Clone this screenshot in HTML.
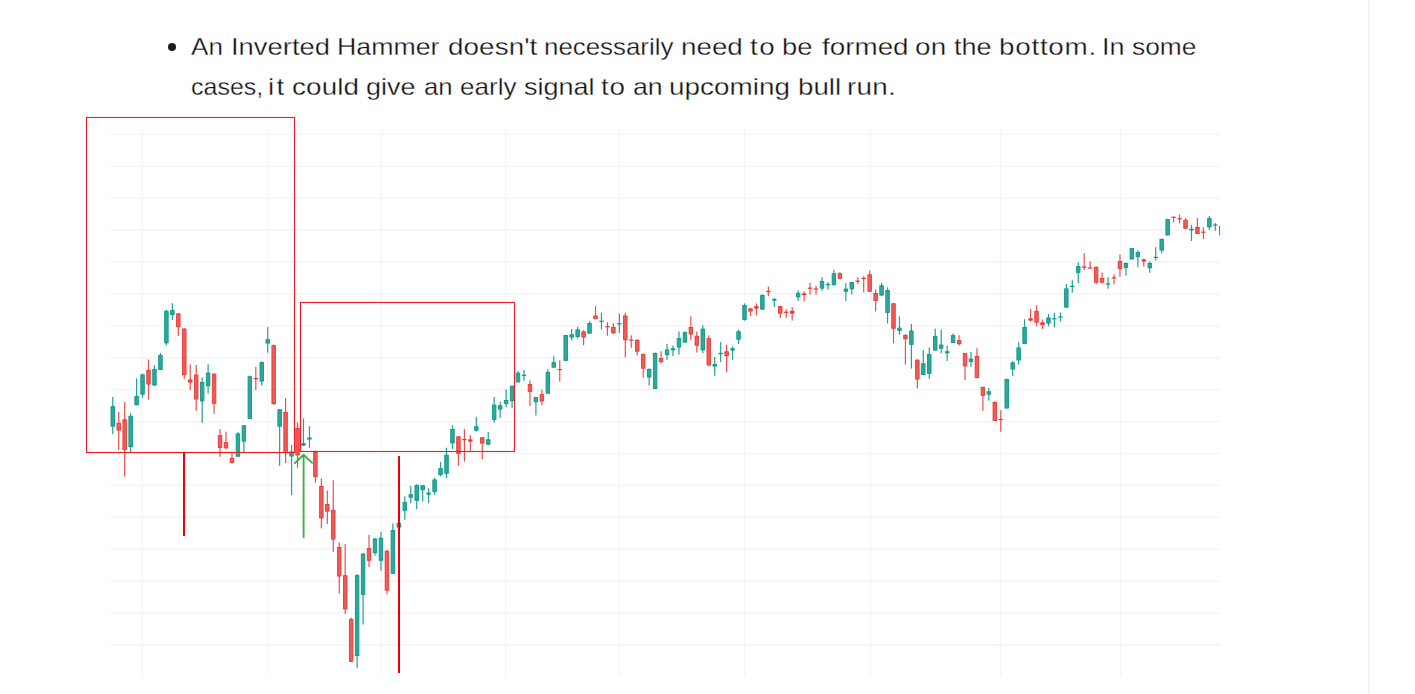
<!DOCTYPE html>
<html><head><meta charset="utf-8"><style>
html,body{margin:0;padding:0;background:#fff;width:1415px;height:694px;overflow:hidden;}
body{position:relative;font-family:"Liberation Sans",sans-serif;color:#111;}
.w{position:absolute;font-size:24px;line-height:40px;white-space:nowrap;transform-origin:0 0;-webkit-text-stroke:0.3px #fff;}
.bul{position:absolute;left:168px;top:43px;width:8px;height:8px;border-radius:50%;background:#1e1e1e;}
.vr{position:absolute;left:1368px;top:0;width:2px;height:694px;background:#f3f3f3;}
</style></head><body>
<div class="vr"></div>
<div class="bul"></div>
<span class="w" style="left:191.40px;top:27px;transform:scaleX(1.0857);letter-spacing:0.000px">An</span>
<span class="w" style="left:231.42px;top:27px;transform:scaleX(1.1410);letter-spacing:0.000px">Inverted</span>
<span class="w" style="left:337.17px;top:27px;transform:scaleX(1.1133);letter-spacing:0.000px">Hammer</span>
<span class="w" style="left:447.64px;top:27px;transform:scaleX(1.1600);letter-spacing:0.063px">doesn't</span>
<span class="w" style="left:544.04px;top:27px;transform:scaleX(1.0780);letter-spacing:0.000px">necessarily</span>
<span class="w" style="left:680.98px;top:27px;transform:scaleX(1.1580);letter-spacing:-0.000px">need</span>
<span class="w" style="left:750.30px;top:27px;transform:scaleX(1.1600);letter-spacing:1.345px">to</span>
<span class="w" style="left:782.26px;top:27px;transform:scaleX(1.1400);letter-spacing:0.000px">be</span>
<span class="w" style="left:822.00px;top:27px;transform:scaleX(1.1589);letter-spacing:0.000px">formed</span>
<span class="w" style="left:914.84px;top:27px;transform:scaleX(1.1600);letter-spacing:0.310px">on</span>
<span class="w" style="left:953.80px;top:27px;transform:scaleX(1.1250);letter-spacing:0.000px">the</span>
<span class="w" style="left:998.84px;top:27px;transform:scaleX(1.1600);letter-spacing:0.629px">bottom.</span>
<span class="w" style="left:1102.05px;top:27px;transform:scaleX(1.1235);letter-spacing:0.000px">In</span>
<span class="w" style="left:1131.80px;top:27px;transform:scaleX(1.0965);letter-spacing:-0.000px">some</span>
<span class="w" style="left:190.96px;top:67px;transform:scaleX(1.0409);letter-spacing:0.000px">cases,</span>
<span class="w" style="left:268.18px;top:67px;transform:scaleX(1.1600);letter-spacing:1.897px">it</span>
<span class="w" style="left:292.34px;top:67px;transform:scaleX(1.1600);letter-spacing:0.108px">could</span>
<span class="w" style="left:366.37px;top:67px;transform:scaleX(1.1262);letter-spacing:0.000px">give</span>
<span class="w" style="left:424.03px;top:67px;transform:scaleX(1.0708);letter-spacing:0.000px">an</span>
<span class="w" style="left:459.51px;top:67px;transform:scaleX(1.0882);letter-spacing:0.000px">early</span>
<span class="w" style="left:523.77px;top:67px;transform:scaleX(1.1250);letter-spacing:0.000px">signal</span>
<span class="w" style="left:600.70px;top:67px;transform:scaleX(1.1600);letter-spacing:0.741px">to</span>
<span class="w" style="left:632.59px;top:67px;transform:scaleX(1.1125);letter-spacing:0.000px">an</span>
<span class="w" style="left:668.94px;top:67px;transform:scaleX(1.1600);letter-spacing:0.034px">upcoming</span>
<span class="w" style="left:797.65px;top:67px;transform:scaleX(1.1543);letter-spacing:0.000px">bull</span>
<span class="w" style="left:846.98px;top:67px;transform:scaleX(1.1600);letter-spacing:0.253px">run.</span>
<svg width="1415" height="694" viewBox="0 0 1415 694" style="position:absolute;left:0;top:0"><defs><clipPath id="clip"><rect x="0" y="0" width="1220" height="694"/></clipPath></defs><g fill="#f4f5f5"><rect x="110" y="133.75" width="1110" height="1.5" /><rect x="110" y="165.65" width="1110" height="1.5" /><rect x="110" y="197.55" width="1110" height="1.5" /><rect x="110" y="229.45" width="1110" height="1.5" /><rect x="110" y="261.35" width="1110" height="1.5" /><rect x="110" y="293.25" width="1110" height="1.5" /><rect x="110" y="325.15" width="1110" height="1.5" /><rect x="110" y="357.05" width="1110" height="1.5" /><rect x="110" y="388.95" width="1110" height="1.5" /><rect x="110" y="420.85" width="1110" height="1.5" /><rect x="110" y="452.75" width="1110" height="1.5" /><rect x="110" y="484.65" width="1110" height="1.5" /><rect x="110" y="516.55" width="1110" height="1.5" /><rect x="110" y="548.45" width="1110" height="1.5" /><rect x="110" y="580.35" width="1110" height="1.5" /><rect x="110" y="612.25" width="1110" height="1.5" /><rect x="110" y="644.15" width="1110" height="1.5" /><rect x="141.55" y="129" width="1.3" height="546.7" /><rect x="266.85" y="129" width="1.3" height="546.7" /><rect x="380.65" y="129" width="1.3" height="546.7" /><rect x="504.95" y="129" width="1.3" height="546.7" /><rect x="618.45" y="129" width="1.3" height="546.7" /><rect x="743.95" y="129" width="1.3" height="546.7" /><rect x="869.85" y="129" width="1.3" height="546.7" /><rect x="999.65" y="129" width="1.3" height="546.7" /><rect x="1119.85" y="129" width="1.3" height="546.7" /></g><g clip-path="url(#clip)"><rect x="112.16" y="397.0" width="1.2" height="37.2" fill="#21a294"/><rect x="111.01" y="406.65" width="3.50" height="19.60" fill="#2ba99c" stroke="#109786" stroke-width="0.9"/><rect x="118.12" y="411.9" width="1.2" height="38.1" fill="#ee4f4c"/><rect x="116.97" y="423.35" width="3.50" height="6.70" fill="#f05a57" stroke="#e53b37" stroke-width="0.9"/><rect x="124.08" y="402.0" width="1.2" height="74.6" fill="#ee4f4c"/><rect x="122.93" y="419.75" width="3.50" height="29.80" fill="#f05a57" stroke="#e53b37" stroke-width="0.9"/><rect x="130.04" y="413.0" width="1.2" height="39.1" fill="#21a294"/><rect x="128.89" y="416.25" width="3.50" height="30.50" fill="#2ba99c" stroke="#109786" stroke-width="0.9"/><rect x="136.00" y="378.4" width="1.2" height="26.8" fill="#21a294"/><rect x="134.85" y="396.45" width="3.50" height="8.30" fill="#2ba99c" stroke="#109786" stroke-width="0.9"/><rect x="141.96" y="373.6" width="1.2" height="24.1" fill="#21a294"/><rect x="140.81" y="374.85" width="3.50" height="19.30" fill="#2ba99c" stroke="#109786" stroke-width="0.9"/><rect x="147.92" y="359.6" width="1.2" height="40.0" fill="#ee4f4c"/><rect x="146.77" y="370.35" width="3.50" height="13.70" fill="#f05a57" stroke="#e53b37" stroke-width="0.9"/><rect x="153.88" y="365.2" width="1.2" height="20.5" fill="#21a294"/><rect x="152.73" y="369.35" width="3.50" height="15.70" fill="#2ba99c" stroke="#109786" stroke-width="0.9"/><rect x="159.84" y="353.0" width="1.2" height="17.3" fill="#21a294"/><rect x="158.69" y="355.25" width="3.50" height="14.20" fill="#2ba99c" stroke="#109786" stroke-width="0.9"/><rect x="165.80" y="309.6" width="1.2" height="35.6" fill="#21a294"/><rect x="164.65" y="311.25" width="3.50" height="31.60" fill="#2ba99c" stroke="#109786" stroke-width="0.9"/><rect x="171.76" y="303.2" width="1.2" height="16.8" fill="#21a294"/><rect x="170.61" y="310.55" width="3.50" height="4.10" fill="#2ba99c" stroke="#109786" stroke-width="0.9"/><rect x="177.72" y="313.0" width="1.2" height="23.0" fill="#ee4f4c"/><rect x="176.57" y="313.85" width="3.50" height="12.90" fill="#f05a57" stroke="#e53b37" stroke-width="0.9"/><rect x="183.68" y="328.0" width="1.2" height="50.8" fill="#ee4f4c"/><rect x="182.53" y="329.05" width="3.50" height="45.60" fill="#f05a57" stroke="#e53b37" stroke-width="0.9"/><rect x="189.64" y="364.3" width="1.2" height="25.7" fill="#ee4f4c"/><rect x="188.49" y="379.85" width="3.50" height="2.30" fill="#f05a57" stroke="#e53b37" stroke-width="0.9"/><rect x="195.60" y="365.0" width="1.2" height="45.9" fill="#ee4f4c"/><rect x="194.45" y="375.05" width="3.50" height="23.90" fill="#f05a57" stroke="#e53b37" stroke-width="0.9"/><rect x="201.56" y="377.3" width="1.2" height="45.6" fill="#21a294"/><rect x="200.41" y="382.35" width="3.50" height="18.50" fill="#2ba99c" stroke="#109786" stroke-width="0.9"/><rect x="207.52" y="364.3" width="1.2" height="29.2" fill="#21a294"/><rect x="206.37" y="373.15" width="3.50" height="12.60" fill="#2ba99c" stroke="#109786" stroke-width="0.9"/><rect x="213.48" y="373.5" width="1.2" height="40.2" fill="#ee4f4c"/><rect x="212.33" y="374.15" width="3.50" height="29.20" fill="#f05a57" stroke="#e53b37" stroke-width="0.9"/><rect x="219.44" y="429.1" width="1.2" height="27.7" fill="#ee4f4c"/><rect x="218.29" y="435.65" width="3.50" height="11.80" fill="#f05a57" stroke="#e53b37" stroke-width="0.9"/><rect x="225.40" y="431.6" width="1.2" height="17.3" fill="#ee4f4c"/><rect x="224.25" y="442.65" width="3.50" height="5.20" fill="#f05a57" stroke="#e53b37" stroke-width="0.9"/><rect x="231.36" y="452.8" width="1.2" height="10.7" fill="#ee4f4c"/><rect x="230.21" y="458.55" width="3.50" height="4.00" fill="#f05a57" stroke="#e53b37" stroke-width="0.9"/><rect x="237.32" y="432.1" width="1.2" height="24.6" fill="#21a294"/><rect x="236.17" y="433.95" width="3.50" height="22.30" fill="#2ba99c" stroke="#109786" stroke-width="0.9"/><rect x="243.28" y="425.0" width="1.2" height="27.1" fill="#21a294"/><rect x="242.13" y="425.75" width="3.50" height="15.30" fill="#2ba99c" stroke="#109786" stroke-width="0.9"/><rect x="249.24" y="375.5" width="1.2" height="43.4" fill="#21a294"/><rect x="248.09" y="376.75" width="3.50" height="41.70" fill="#2ba99c" stroke="#109786" stroke-width="0.9"/><rect x="255.20" y="367.0" width="1.2" height="23.0" fill="#ee4f4c"/><rect x="253.60" y="378.0" width="4.4" height="1.2" fill="#e53b37"/><rect x="261.16" y="361.5" width="1.2" height="24.0" fill="#21a294"/><rect x="260.01" y="362.55" width="3.50" height="18.50" fill="#2ba99c" stroke="#109786" stroke-width="0.9"/><rect x="267.12" y="326.8" width="1.2" height="25.9" fill="#21a294"/><rect x="265.97" y="339.65" width="3.50" height="3.40" fill="#2ba99c" stroke="#109786" stroke-width="0.9"/><rect x="273.08" y="344.5" width="1.2" height="60.3" fill="#ee4f4c"/><rect x="271.93" y="345.65" width="3.50" height="58.00" fill="#f05a57" stroke="#e53b37" stroke-width="0.9"/><rect x="279.04" y="409.0" width="1.2" height="56.8" fill="#21a294"/><rect x="277.89" y="409.75" width="3.50" height="16.50" fill="#2ba99c" stroke="#109786" stroke-width="0.9"/><rect x="285.00" y="398.1" width="1.2" height="64.9" fill="#ee4f4c"/><rect x="283.85" y="412.55" width="3.50" height="40.00" fill="#f05a57" stroke="#e53b37" stroke-width="0.9"/><rect x="290.96" y="445.0" width="1.2" height="49.9" fill="#21a294"/><rect x="289.81" y="451.95" width="3.50" height="4.10" fill="#2ba99c" stroke="#109786" stroke-width="0.9"/><rect x="296.92" y="422.2" width="1.2" height="45.6" fill="#ee4f4c"/><rect x="295.77" y="428.45" width="3.50" height="26.50" fill="#f05a57" stroke="#e53b37" stroke-width="0.9"/><rect x="302.88" y="418.5" width="1.2" height="27.5" fill="#21a294"/><rect x="301.28" y="443.1" width="4.4" height="2.5" fill="#109786"/><rect x="308.84" y="426.2" width="1.2" height="21.9" fill="#21a294"/><rect x="307.24" y="437.5" width="4.4" height="2.1" fill="#109786"/><rect x="314.80" y="450.5" width="1.2" height="32.2" fill="#ee4f4c"/><rect x="313.65" y="452.45" width="3.50" height="24.20" fill="#f05a57" stroke="#e53b37" stroke-width="0.9"/><rect x="320.76" y="478.5" width="1.2" height="49.9" fill="#ee4f4c"/><rect x="319.61" y="486.45" width="3.50" height="31.40" fill="#f05a57" stroke="#e53b37" stroke-width="0.9"/><rect x="326.72" y="490.5" width="1.2" height="33.4" fill="#ee4f4c"/><rect x="325.57" y="504.55" width="3.50" height="6.60" fill="#f05a57" stroke="#e53b37" stroke-width="0.9"/><rect x="332.68" y="480.3" width="1.2" height="71.6" fill="#ee4f4c"/><rect x="331.53" y="510.25" width="3.50" height="28.80" fill="#f05a57" stroke="#e53b37" stroke-width="0.9"/><rect x="338.64" y="542.3" width="1.2" height="51.1" fill="#ee4f4c"/><rect x="337.49" y="547.45" width="3.50" height="28.60" fill="#f05a57" stroke="#e53b37" stroke-width="0.9"/><rect x="344.60" y="544.1" width="1.2" height="69.8" fill="#ee4f4c"/><rect x="343.45" y="575.65" width="3.50" height="33.30" fill="#f05a57" stroke="#e53b37" stroke-width="0.9"/><rect x="350.56" y="617.5" width="1.2" height="44.2" fill="#ee4f4c"/><rect x="349.41" y="619.35" width="3.50" height="41.90" fill="#f05a57" stroke="#e53b37" stroke-width="0.9"/><rect x="356.52" y="574.1" width="1.2" height="94.2" fill="#21a294"/><rect x="355.37" y="575.65" width="3.50" height="79.90" fill="#2ba99c" stroke="#109786" stroke-width="0.9"/><rect x="362.48" y="553.0" width="1.2" height="71.5" fill="#21a294"/><rect x="361.33" y="554.05" width="3.50" height="40.30" fill="#2ba99c" stroke="#109786" stroke-width="0.9"/><rect x="368.44" y="535.0" width="1.2" height="32.0" fill="#ee4f4c"/><rect x="367.29" y="548.45" width="3.50" height="11.80" fill="#f05a57" stroke="#e53b37" stroke-width="0.9"/><rect x="374.40" y="538.0" width="1.2" height="17.7" fill="#21a294"/><rect x="373.25" y="538.95" width="3.50" height="13.50" fill="#2ba99c" stroke="#109786" stroke-width="0.9"/><rect x="380.36" y="532.1" width="1.2" height="38.7" fill="#21a294"/><rect x="379.21" y="538.25" width="3.50" height="22.00" fill="#2ba99c" stroke="#109786" stroke-width="0.9"/><rect x="386.32" y="550.0" width="1.2" height="44.4" fill="#ee4f4c"/><rect x="385.17" y="551.25" width="3.50" height="38.90" fill="#f05a57" stroke="#e53b37" stroke-width="0.9"/><rect x="392.27" y="523.5" width="1.2" height="50.2" fill="#21a294"/><rect x="391.12" y="530.45" width="3.50" height="42.80" fill="#2ba99c" stroke="#109786" stroke-width="0.9"/><rect x="398.23" y="522.0" width="1.2" height="5.5" fill="#21a294"/><rect x="397.08" y="523.25" width="3.50" height="3.80" fill="#2ba99c" stroke="#109786" stroke-width="0.9"/><rect x="404.19" y="496.3" width="1.2" height="23.4" fill="#21a294"/><rect x="403.04" y="502.45" width="3.50" height="7.90" fill="#2ba99c" stroke="#109786" stroke-width="0.9"/><rect x="410.15" y="486.0" width="1.2" height="17.4" fill="#21a294"/><rect x="409.00" y="494.75" width="3.50" height="2.50" fill="#2ba99c" stroke="#109786" stroke-width="0.9"/><rect x="416.11" y="484.2" width="1.2" height="24.9" fill="#21a294"/><rect x="414.96" y="485.55" width="3.50" height="14.80" fill="#2ba99c" stroke="#109786" stroke-width="0.9"/><rect x="422.07" y="485.0" width="1.2" height="16.5" fill="#21a294"/><rect x="420.92" y="485.75" width="3.50" height="4.00" fill="#2ba99c" stroke="#109786" stroke-width="0.9"/><rect x="428.03" y="488.1" width="1.2" height="14.9" fill="#21a294"/><rect x="426.43" y="492.6" width="4.4" height="2.0" fill="#109786"/><rect x="433.99" y="477.8" width="1.2" height="17.1" fill="#21a294"/><rect x="432.84" y="479.95" width="3.50" height="11.40" fill="#2ba99c" stroke="#109786" stroke-width="0.9"/><rect x="439.95" y="461.8" width="1.2" height="14.6" fill="#21a294"/><rect x="438.80" y="468.65" width="3.50" height="5.90" fill="#2ba99c" stroke="#109786" stroke-width="0.9"/><rect x="445.91" y="447.7" width="1.2" height="30.5" fill="#21a294"/><rect x="444.76" y="455.25" width="3.50" height="18.10" fill="#2ba99c" stroke="#109786" stroke-width="0.9"/><rect x="451.87" y="425.2" width="1.2" height="23.9" fill="#21a294"/><rect x="450.72" y="429.45" width="3.50" height="13.50" fill="#2ba99c" stroke="#109786" stroke-width="0.9"/><rect x="457.83" y="436.0" width="1.2" height="29.8" fill="#ee4f4c"/><rect x="456.68" y="436.85" width="3.50" height="16.50" fill="#f05a57" stroke="#e53b37" stroke-width="0.9"/><rect x="463.79" y="429.0" width="1.2" height="32.5" fill="#ee4f4c"/><rect x="462.19" y="439.0" width="4.4" height="1.2" fill="#e53b37"/><rect x="469.75" y="435.1" width="1.2" height="15.8" fill="#ee4f4c"/><rect x="468.15" y="439.3" width="4.4" height="2.4" fill="#e53b37"/><rect x="475.71" y="416.7" width="1.2" height="14.9" fill="#21a294"/><rect x="474.56" y="426.75" width="3.50" height="3.40" fill="#2ba99c" stroke="#109786" stroke-width="0.9"/><rect x="481.67" y="437.0" width="1.2" height="22.3" fill="#ee4f4c"/><rect x="480.52" y="437.85" width="3.50" height="5.20" fill="#f05a57" stroke="#e53b37" stroke-width="0.9"/><rect x="487.63" y="431.9" width="1.2" height="13.1" fill="#21a294"/><rect x="486.48" y="439.75" width="3.50" height="4.40" fill="#2ba99c" stroke="#109786" stroke-width="0.9"/><rect x="493.59" y="397.0" width="1.2" height="25.7" fill="#21a294"/><rect x="492.44" y="405.05" width="3.50" height="14.30" fill="#2ba99c" stroke="#109786" stroke-width="0.9"/><rect x="499.55" y="401.8" width="1.2" height="16.2" fill="#21a294"/><rect x="498.40" y="405.75" width="3.50" height="3.40" fill="#2ba99c" stroke="#109786" stroke-width="0.9"/><rect x="505.51" y="389.4" width="1.2" height="17.6" fill="#21a294"/><rect x="504.36" y="400.55" width="3.50" height="2.90" fill="#2ba99c" stroke="#109786" stroke-width="0.9"/><rect x="511.47" y="385.5" width="1.2" height="22.4" fill="#21a294"/><rect x="510.32" y="386.25" width="3.50" height="14.40" fill="#2ba99c" stroke="#109786" stroke-width="0.9"/><rect x="517.43" y="371.1" width="1.2" height="11.3" fill="#21a294"/><rect x="516.28" y="373.25" width="3.50" height="8.70" fill="#2ba99c" stroke="#109786" stroke-width="0.9"/><rect x="523.39" y="370.0" width="1.2" height="10.8" fill="#21a294"/><rect x="521.79" y="374.7" width="4.4" height="1.2" fill="#109786"/><rect x="529.35" y="380.3" width="1.2" height="25.7" fill="#ee4f4c"/><rect x="528.20" y="384.55" width="3.50" height="6.80" fill="#f05a57" stroke="#e53b37" stroke-width="0.9"/><rect x="535.31" y="397.0" width="1.2" height="18.5" fill="#21a294"/><rect x="534.16" y="397.55" width="3.50" height="4.20" fill="#2ba99c" stroke="#109786" stroke-width="0.9"/><rect x="541.27" y="389.6" width="1.2" height="15.4" fill="#ee4f4c"/><rect x="540.12" y="394.65" width="3.50" height="6.30" fill="#f05a57" stroke="#e53b37" stroke-width="0.9"/><rect x="547.23" y="369.3" width="1.2" height="24.3" fill="#21a294"/><rect x="546.08" y="372.25" width="3.50" height="20.90" fill="#2ba99c" stroke="#109786" stroke-width="0.9"/><rect x="553.19" y="356.1" width="1.2" height="11.5" fill="#21a294"/><rect x="552.04" y="362.65" width="3.50" height="4.50" fill="#2ba99c" stroke="#109786" stroke-width="0.9"/><rect x="559.15" y="360.5" width="1.2" height="21.2" fill="#ee4f4c"/><rect x="557.55" y="369.0" width="4.4" height="1.2" fill="#e53b37"/><rect x="565.11" y="335.0" width="1.2" height="25.8" fill="#21a294"/><rect x="563.96" y="335.55" width="3.50" height="24.80" fill="#2ba99c" stroke="#109786" stroke-width="0.9"/><rect x="571.07" y="329.0" width="1.2" height="11.6" fill="#21a294"/><rect x="569.92" y="334.75" width="3.50" height="2.30" fill="#2ba99c" stroke="#109786" stroke-width="0.9"/><rect x="577.03" y="326.9" width="1.2" height="11.5" fill="#21a294"/><rect x="575.88" y="329.85" width="3.50" height="6.70" fill="#2ba99c" stroke="#109786" stroke-width="0.9"/><rect x="582.99" y="330.1" width="1.2" height="15.1" fill="#ee4f4c"/><rect x="581.84" y="331.85" width="3.50" height="5.20" fill="#f05a57" stroke="#e53b37" stroke-width="0.9"/><rect x="588.95" y="321.2" width="1.2" height="12.4" fill="#21a294"/><rect x="587.80" y="323.35" width="3.50" height="9.80" fill="#2ba99c" stroke="#109786" stroke-width="0.9"/><rect x="594.91" y="306.1" width="1.2" height="13.0" fill="#ee4f4c"/><rect x="593.76" y="315.95" width="3.50" height="2.70" fill="#f05a57" stroke="#e53b37" stroke-width="0.9"/><rect x="600.87" y="312.7" width="1.2" height="16.7" fill="#21a294"/><rect x="599.27" y="320.7" width="4.4" height="1.2" fill="#109786"/><rect x="606.83" y="322.2" width="1.2" height="13.6" fill="#ee4f4c"/><rect x="605.23" y="326.1" width="4.4" height="1.2" fill="#e53b37"/><rect x="612.79" y="323.0" width="1.2" height="10.9" fill="#ee4f4c"/><rect x="611.64" y="327.35" width="3.50" height="5.40" fill="#f05a57" stroke="#e53b37" stroke-width="0.9"/><rect x="618.75" y="313.7" width="1.2" height="19.2" fill="#21a294"/><rect x="617.15" y="323.1" width="4.4" height="1.2" fill="#109786"/><rect x="624.71" y="312.7" width="1.2" height="44.8" fill="#ee4f4c"/><rect x="623.56" y="315.95" width="3.50" height="23.90" fill="#f05a57" stroke="#e53b37" stroke-width="0.9"/><rect x="630.67" y="335.3" width="1.2" height="12.5" fill="#ee4f4c"/><rect x="629.07" y="339.5" width="4.4" height="1.2" fill="#e53b37"/><rect x="636.63" y="338.9" width="1.2" height="16.6" fill="#ee4f4c"/><rect x="635.48" y="340.45" width="3.50" height="10.70" fill="#f05a57" stroke="#e53b37" stroke-width="0.9"/><rect x="642.59" y="353.5" width="1.2" height="24.2" fill="#ee4f4c"/><rect x="641.44" y="354.55" width="3.50" height="13.60" fill="#f05a57" stroke="#e53b37" stroke-width="0.9"/><rect x="648.55" y="368.3" width="1.2" height="17.2" fill="#21a294"/><rect x="647.40" y="369.45" width="3.50" height="7.60" fill="#2ba99c" stroke="#109786" stroke-width="0.9"/><rect x="654.51" y="352.5" width="1.2" height="36.5" fill="#21a294"/><rect x="653.36" y="353.45" width="3.50" height="35.10" fill="#2ba99c" stroke="#109786" stroke-width="0.9"/><rect x="660.47" y="351.2" width="1.2" height="12.4" fill="#ee4f4c"/><rect x="659.32" y="358.45" width="3.50" height="3.30" fill="#f05a57" stroke="#e53b37" stroke-width="0.9"/><rect x="666.43" y="343.8" width="1.2" height="16.2" fill="#21a294"/><rect x="665.28" y="349.95" width="3.50" height="4.70" fill="#2ba99c" stroke="#109786" stroke-width="0.9"/><rect x="672.39" y="345.5" width="1.2" height="10.7" fill="#21a294"/><rect x="670.79" y="348.3" width="4.4" height="2.0" fill="#109786"/><rect x="678.35" y="331.5" width="1.2" height="23.1" fill="#21a294"/><rect x="677.20" y="338.45" width="3.50" height="8.60" fill="#2ba99c" stroke="#109786" stroke-width="0.9"/><rect x="684.31" y="331.3" width="1.2" height="11.3" fill="#21a294"/><rect x="683.16" y="332.65" width="3.50" height="9.50" fill="#2ba99c" stroke="#109786" stroke-width="0.9"/><rect x="690.26" y="316.4" width="1.2" height="24.0" fill="#ee4f4c"/><rect x="689.11" y="327.45" width="3.50" height="6.60" fill="#f05a57" stroke="#e53b37" stroke-width="0.9"/><rect x="696.22" y="331.5" width="1.2" height="21.0" fill="#ee4f4c"/><rect x="695.07" y="336.25" width="3.50" height="9.00" fill="#f05a57" stroke="#e53b37" stroke-width="0.9"/><rect x="702.18" y="325.2" width="1.2" height="28.0" fill="#21a294"/><rect x="701.03" y="329.15" width="3.50" height="20.70" fill="#2ba99c" stroke="#109786" stroke-width="0.9"/><rect x="708.14" y="335.5" width="1.2" height="30.0" fill="#ee4f4c"/><rect x="706.99" y="338.65" width="3.50" height="26.40" fill="#f05a57" stroke="#e53b37" stroke-width="0.9"/><rect x="714.10" y="357.1" width="1.2" height="18.6" fill="#21a294"/><rect x="712.50" y="364.1" width="4.4" height="2.4" fill="#109786"/><rect x="720.06" y="342.0" width="1.2" height="20.0" fill="#21a294"/><rect x="718.46" y="352.8" width="4.4" height="1.4" fill="#109786"/><rect x="726.02" y="344.6" width="1.2" height="27.6" fill="#ee4f4c"/><rect x="724.87" y="351.75" width="3.50" height="4.00" fill="#f05a57" stroke="#e53b37" stroke-width="0.9"/><rect x="731.98" y="346.5" width="1.2" height="13.3" fill="#21a294"/><rect x="730.38" y="348.2" width="4.4" height="2.3" fill="#109786"/><rect x="737.94" y="329.7" width="1.2" height="14.3" fill="#21a294"/><rect x="736.79" y="331.75" width="3.50" height="7.40" fill="#2ba99c" stroke="#109786" stroke-width="0.9"/><rect x="743.90" y="303.4" width="1.2" height="17.3" fill="#21a294"/><rect x="742.75" y="305.55" width="3.50" height="14.00" fill="#2ba99c" stroke="#109786" stroke-width="0.9"/><rect x="749.86" y="308.0" width="1.2" height="8.1" fill="#ee4f4c"/><rect x="748.71" y="308.85" width="3.50" height="2.20" fill="#f05a57" stroke="#e53b37" stroke-width="0.9"/><rect x="755.82" y="303.4" width="1.2" height="12.0" fill="#ee4f4c"/><rect x="754.22" y="306.1" width="4.4" height="2.5" fill="#e53b37"/><rect x="761.78" y="294.2" width="1.2" height="15.4" fill="#21a294"/><rect x="760.63" y="295.35" width="3.50" height="13.80" fill="#2ba99c" stroke="#109786" stroke-width="0.9"/><rect x="767.74" y="286.5" width="1.2" height="9.8" fill="#ee4f4c"/><rect x="766.14" y="290.9" width="4.4" height="1.2" fill="#e53b37"/><rect x="773.70" y="297.8" width="1.2" height="9.2" fill="#21a294"/><rect x="772.10" y="299.0" width="4.4" height="1.6" fill="#109786"/><rect x="779.66" y="306.0" width="1.2" height="11.8" fill="#ee4f4c"/><rect x="778.51" y="306.65" width="3.50" height="6.50" fill="#f05a57" stroke="#e53b37" stroke-width="0.9"/><rect x="785.62" y="309.1" width="1.2" height="8.7" fill="#ee4f4c"/><rect x="784.02" y="311.7" width="4.4" height="1.2" fill="#e53b37"/><rect x="791.58" y="307.2" width="1.2" height="13.5" fill="#ee4f4c"/><rect x="789.98" y="310.8" width="4.4" height="2.8" fill="#e53b37"/><rect x="797.54" y="290.3" width="1.2" height="10.6" fill="#21a294"/><rect x="796.39" y="293.25" width="3.50" height="3.60" fill="#2ba99c" stroke="#109786" stroke-width="0.9"/><rect x="803.50" y="291.3" width="1.2" height="10.0" fill="#ee4f4c"/><rect x="801.90" y="293.4" width="4.4" height="1.8" fill="#e53b37"/><rect x="809.46" y="282.9" width="1.2" height="11.6" fill="#ee4f4c"/><rect x="807.86" y="287.6" width="4.4" height="1.2" fill="#e53b37"/><rect x="815.42" y="285.7" width="1.2" height="8.8" fill="#ee4f4c"/><rect x="813.82" y="288.4" width="4.4" height="1.2" fill="#e53b37"/><rect x="821.38" y="277.1" width="1.2" height="13.6" fill="#21a294"/><rect x="820.23" y="281.55" width="3.50" height="6.60" fill="#2ba99c" stroke="#109786" stroke-width="0.9"/><rect x="827.34" y="282.1" width="1.2" height="7.5" fill="#21a294"/><rect x="825.74" y="283.9" width="4.4" height="1.4" fill="#109786"/><rect x="833.30" y="269.8" width="1.2" height="15.9" fill="#21a294"/><rect x="832.15" y="273.75" width="3.50" height="10.70" fill="#2ba99c" stroke="#109786" stroke-width="0.9"/><rect x="839.26" y="271.9" width="1.2" height="7.3" fill="#ee4f4c"/><rect x="838.11" y="273.75" width="3.50" height="4.50" fill="#f05a57" stroke="#e53b37" stroke-width="0.9"/><rect x="845.22" y="283.2" width="1.2" height="17.7" fill="#21a294"/><rect x="844.07" y="289.05" width="3.50" height="2.20" fill="#2ba99c" stroke="#109786" stroke-width="0.9"/><rect x="851.18" y="282.0" width="1.2" height="12.5" fill="#21a294"/><rect x="850.03" y="282.55" width="3.50" height="6.30" fill="#2ba99c" stroke="#109786" stroke-width="0.9"/><rect x="857.14" y="277.3" width="1.2" height="6.6" fill="#ee4f4c"/><rect x="855.54" y="280.6" width="4.4" height="1.2" fill="#e53b37"/><rect x="863.10" y="276.1" width="1.2" height="16.3" fill="#ee4f4c"/><rect x="861.50" y="277.8" width="4.4" height="1.2" fill="#e53b37"/><rect x="869.06" y="270.5" width="1.2" height="21.2" fill="#ee4f4c"/><rect x="867.91" y="274.75" width="3.50" height="16.50" fill="#f05a57" stroke="#e53b37" stroke-width="0.9"/><rect x="875.02" y="289.3" width="1.2" height="22.2" fill="#ee4f4c"/><rect x="873.87" y="293.55" width="3.50" height="6.90" fill="#f05a57" stroke="#e53b37" stroke-width="0.9"/><rect x="880.98" y="282.9" width="1.2" height="13.4" fill="#21a294"/><rect x="879.83" y="285.75" width="3.50" height="9.30" fill="#2ba99c" stroke="#109786" stroke-width="0.9"/><rect x="886.94" y="287.4" width="1.2" height="36.1" fill="#21a294"/><rect x="885.79" y="290.45" width="3.50" height="22.00" fill="#2ba99c" stroke="#109786" stroke-width="0.9"/><rect x="892.90" y="303.0" width="1.2" height="40.3" fill="#ee4f4c"/><rect x="891.75" y="303.75" width="3.50" height="24.50" fill="#f05a57" stroke="#e53b37" stroke-width="0.9"/><rect x="898.86" y="316.4" width="1.2" height="18.4" fill="#21a294"/><rect x="897.71" y="328.15" width="3.50" height="2.20" fill="#2ba99c" stroke="#109786" stroke-width="0.9"/><rect x="904.82" y="334.1" width="1.2" height="30.6" fill="#ee4f4c"/><rect x="903.67" y="335.55" width="3.50" height="3.20" fill="#f05a57" stroke="#e53b37" stroke-width="0.9"/><rect x="910.78" y="323.9" width="1.2" height="44.7" fill="#21a294"/><rect x="909.63" y="331.05" width="3.50" height="13.30" fill="#2ba99c" stroke="#109786" stroke-width="0.9"/><rect x="916.74" y="359.2" width="1.2" height="29.2" fill="#ee4f4c"/><rect x="915.59" y="360.15" width="3.50" height="18.90" fill="#f05a57" stroke="#e53b37" stroke-width="0.9"/><rect x="922.70" y="350.1" width="1.2" height="24.9" fill="#21a294"/><rect x="921.55" y="363.75" width="3.50" height="10.80" fill="#2ba99c" stroke="#109786" stroke-width="0.9"/><rect x="928.66" y="347.5" width="1.2" height="31.3" fill="#21a294"/><rect x="927.51" y="354.55" width="3.50" height="18.90" fill="#2ba99c" stroke="#109786" stroke-width="0.9"/><rect x="934.62" y="328.7" width="1.2" height="21.9" fill="#21a294"/><rect x="933.47" y="336.35" width="3.50" height="13.70" fill="#2ba99c" stroke="#109786" stroke-width="0.9"/><rect x="940.58" y="329.6" width="1.2" height="23.9" fill="#21a294"/><rect x="939.43" y="345.05" width="3.50" height="3.10" fill="#2ba99c" stroke="#109786" stroke-width="0.9"/><rect x="946.54" y="345.7" width="1.2" height="15.4" fill="#21a294"/><rect x="944.94" y="351.2" width="4.4" height="2.1" fill="#109786"/><rect x="952.50" y="333.4" width="1.2" height="9.6" fill="#21a294"/><rect x="951.35" y="335.65" width="3.50" height="6.90" fill="#2ba99c" stroke="#109786" stroke-width="0.9"/><rect x="958.46" y="335.1" width="1.2" height="10.6" fill="#ee4f4c"/><rect x="957.31" y="340.55" width="3.50" height="3.10" fill="#f05a57" stroke="#e53b37" stroke-width="0.9"/><rect x="964.42" y="353.0" width="1.2" height="27.0" fill="#ee4f4c"/><rect x="963.27" y="353.55" width="3.50" height="12.40" fill="#f05a57" stroke="#e53b37" stroke-width="0.9"/><rect x="970.38" y="352.0" width="1.2" height="14.8" fill="#21a294"/><rect x="969.23" y="359.15" width="3.50" height="2.30" fill="#2ba99c" stroke="#109786" stroke-width="0.9"/><rect x="976.34" y="348.3" width="1.2" height="29.8" fill="#ee4f4c"/><rect x="975.19" y="356.45" width="3.50" height="21.20" fill="#f05a57" stroke="#e53b37" stroke-width="0.9"/><rect x="982.30" y="386.5" width="1.2" height="24.4" fill="#ee4f4c"/><rect x="981.15" y="387.45" width="3.50" height="7.90" fill="#f05a57" stroke="#e53b37" stroke-width="0.9"/><rect x="988.25" y="388.0" width="1.2" height="12.7" fill="#21a294"/><rect x="987.10" y="391.75" width="3.50" height="2.40" fill="#2ba99c" stroke="#109786" stroke-width="0.9"/><rect x="994.21" y="401.5" width="1.2" height="19.4" fill="#ee4f4c"/><rect x="993.06" y="402.35" width="3.50" height="18.10" fill="#f05a57" stroke="#e53b37" stroke-width="0.9"/><rect x="1000.17" y="410.2" width="1.2" height="21.6" fill="#ee4f4c"/><rect x="998.57" y="418.9" width="4.4" height="1.2" fill="#e53b37"/><rect x="1006.13" y="378.5" width="1.2" height="30.0" fill="#21a294"/><rect x="1004.98" y="379.55" width="3.50" height="28.50" fill="#2ba99c" stroke="#109786" stroke-width="0.9"/><rect x="1012.09" y="361.1" width="1.2" height="14.8" fill="#21a294"/><rect x="1010.94" y="362.85" width="3.50" height="6.20" fill="#2ba99c" stroke="#109786" stroke-width="0.9"/><rect x="1018.05" y="342.1" width="1.2" height="22.5" fill="#21a294"/><rect x="1016.90" y="347.95" width="3.50" height="12.10" fill="#2ba99c" stroke="#109786" stroke-width="0.9"/><rect x="1024.01" y="319.2" width="1.2" height="24.9" fill="#21a294"/><rect x="1022.86" y="327.45" width="3.50" height="16.20" fill="#2ba99c" stroke="#109786" stroke-width="0.9"/><rect x="1029.97" y="309.0" width="1.2" height="12.6" fill="#ee4f4c"/><rect x="1028.37" y="318.3" width="4.4" height="2.3" fill="#e53b37"/><rect x="1035.93" y="305.3" width="1.2" height="21.0" fill="#ee4f4c"/><rect x="1034.78" y="311.35" width="3.50" height="10.80" fill="#f05a57" stroke="#e53b37" stroke-width="0.9"/><rect x="1041.89" y="319.4" width="1.2" height="9.7" fill="#ee4f4c"/><rect x="1040.29" y="322.3" width="4.4" height="2.7" fill="#e53b37"/><rect x="1047.85" y="313.9" width="1.2" height="12.4" fill="#21a294"/><rect x="1046.70" y="317.95" width="3.50" height="5.10" fill="#2ba99c" stroke="#109786" stroke-width="0.9"/><rect x="1053.81" y="312.9" width="1.2" height="14.5" fill="#21a294"/><rect x="1052.21" y="318.2" width="4.4" height="1.2" fill="#109786"/><rect x="1059.77" y="312.5" width="1.2" height="9.2" fill="#21a294"/><rect x="1058.17" y="316.5" width="4.4" height="1.2" fill="#109786"/><rect x="1065.73" y="284.0" width="1.2" height="23.6" fill="#21a294"/><rect x="1064.58" y="288.85" width="3.50" height="18.30" fill="#2ba99c" stroke="#109786" stroke-width="0.9"/><rect x="1071.69" y="280.2" width="1.2" height="12.4" fill="#21a294"/><rect x="1070.09" y="285.8" width="4.4" height="1.2" fill="#109786"/><rect x="1077.65" y="262.2" width="1.2" height="20.8" fill="#21a294"/><rect x="1076.50" y="266.55" width="3.50" height="5.80" fill="#2ba99c" stroke="#109786" stroke-width="0.9"/><rect x="1083.61" y="253.1" width="1.2" height="16.9" fill="#ee4f4c"/><rect x="1082.01" y="266.5" width="4.4" height="1.4" fill="#e53b37"/><rect x="1089.57" y="261.3" width="1.2" height="7.1" fill="#ee4f4c"/><rect x="1087.97" y="267.4" width="4.4" height="1.2" fill="#e53b37"/><rect x="1095.53" y="266.5" width="1.2" height="17.7" fill="#ee4f4c"/><rect x="1094.38" y="267.25" width="3.50" height="15.00" fill="#f05a57" stroke="#e53b37" stroke-width="0.9"/><rect x="1101.49" y="272.4" width="1.2" height="10.3" fill="#ee4f4c"/><rect x="1100.34" y="278.55" width="3.50" height="3.70" fill="#f05a57" stroke="#e53b37" stroke-width="0.9"/><rect x="1107.45" y="277.1" width="1.2" height="11.6" fill="#21a294"/><rect x="1105.85" y="283.4" width="4.4" height="1.2" fill="#109786"/><rect x="1113.41" y="274.3" width="1.2" height="10.1" fill="#ee4f4c"/><rect x="1111.81" y="277.3" width="4.4" height="1.2" fill="#e53b37"/><rect x="1119.37" y="254.5" width="1.2" height="22.2" fill="#ee4f4c"/><rect x="1118.22" y="261.55" width="3.50" height="6.90" fill="#f05a57" stroke="#e53b37" stroke-width="0.9"/><rect x="1125.33" y="262.5" width="1.2" height="13.2" fill="#21a294"/><rect x="1124.18" y="263.45" width="3.50" height="4.00" fill="#2ba99c" stroke="#109786" stroke-width="0.9"/><rect x="1131.29" y="248.0" width="1.2" height="11.4" fill="#21a294"/><rect x="1130.14" y="248.55" width="3.50" height="10.40" fill="#2ba99c" stroke="#109786" stroke-width="0.9"/><rect x="1137.25" y="250.2" width="1.2" height="17.0" fill="#21a294"/><rect x="1136.10" y="252.55" width="3.50" height="3.90" fill="#2ba99c" stroke="#109786" stroke-width="0.9"/><rect x="1143.21" y="258.4" width="1.2" height="8.1" fill="#ee4f4c"/><rect x="1141.61" y="259.4" width="4.4" height="2.1" fill="#e53b37"/><rect x="1149.17" y="261.3" width="1.2" height="11.5" fill="#21a294"/><rect x="1148.02" y="263.45" width="3.50" height="4.30" fill="#2ba99c" stroke="#109786" stroke-width="0.9"/><rect x="1155.13" y="247.1" width="1.2" height="13.4" fill="#21a294"/><rect x="1153.53" y="256.8" width="4.4" height="1.2" fill="#109786"/><rect x="1161.09" y="238.5" width="1.2" height="14.8" fill="#21a294"/><rect x="1159.94" y="239.35" width="3.50" height="10.70" fill="#2ba99c" stroke="#109786" stroke-width="0.9"/><rect x="1167.05" y="219.0" width="1.2" height="16.4" fill="#21a294"/><rect x="1165.90" y="219.55" width="3.50" height="15.40" fill="#2ba99c" stroke="#109786" stroke-width="0.9"/><rect x="1173.01" y="216.5" width="1.2" height="5.9" fill="#ee4f4c"/><rect x="1171.41" y="216.7" width="4.4" height="1.2" fill="#e53b37"/><rect x="1178.97" y="214.5" width="1.2" height="8.9" fill="#ee4f4c"/><rect x="1177.37" y="218.2" width="4.4" height="1.2" fill="#e53b37"/><rect x="1184.93" y="218.1" width="1.2" height="10.6" fill="#ee4f4c"/><rect x="1183.78" y="220.25" width="3.50" height="8.00" fill="#f05a57" stroke="#e53b37" stroke-width="0.9"/><rect x="1190.89" y="224.8" width="1.2" height="16.2" fill="#21a294"/><rect x="1189.29" y="228.7" width="4.4" height="1.7" fill="#109786"/><rect x="1196.85" y="218.1" width="1.2" height="15.9" fill="#ee4f4c"/><rect x="1195.70" y="227.35" width="3.50" height="6.20" fill="#f05a57" stroke="#e53b37" stroke-width="0.9"/><rect x="1202.81" y="227.3" width="1.2" height="11.9" fill="#ee4f4c"/><rect x="1201.21" y="231.6" width="4.4" height="1.2" fill="#e53b37"/><rect x="1208.77" y="216.0" width="1.2" height="13.7" fill="#21a294"/><rect x="1207.62" y="218.55" width="3.50" height="8.30" fill="#2ba99c" stroke="#109786" stroke-width="0.9"/><rect x="1214.73" y="223.1" width="1.2" height="7.6" fill="#21a294"/><rect x="1213.13" y="224.5" width="4.4" height="1.2" fill="#109786"/><rect x="1220.69" y="225.5" width="1.2" height="9.9" fill="#ee4f4c"/><rect x="1219.54" y="226.45" width="3.50" height="8.50" fill="#f05a57" stroke="#e53b37" stroke-width="0.9"/></g><rect x="86.5" y="117.5" width="208" height="335" fill="none" stroke="#ed1c24" stroke-width="1.1"/><rect x="300.5" y="302.5" width="214" height="149" fill="none" stroke="#ed1c24" stroke-width="1.1"/><rect x="183" y="452" width="2" height="84" fill="#ea0008"/><rect x="398" y="456" width="2" height="217" fill="#ea0008"/><path d="M303.6 538 L303.6 455.5 M294.2 463.7 L303.6 454.8 L312.7 463.4" fill="none" stroke="#45ad4a" stroke-width="1.9" stroke-linejoin="round"/></svg>
</body></html>
